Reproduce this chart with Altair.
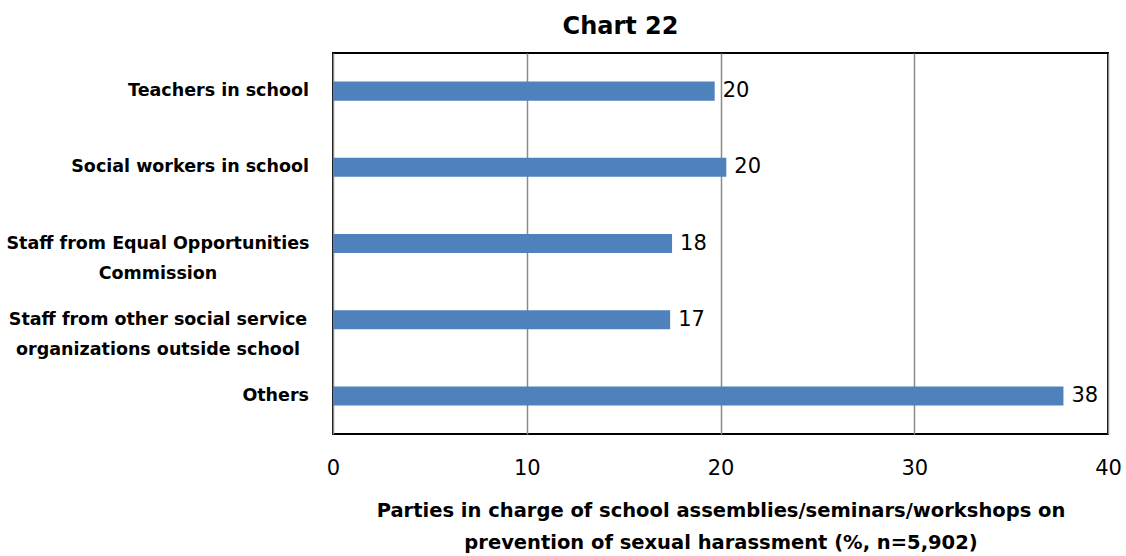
import altair as alt
import pandas as pd

# Survey results: who ran the school sessions on preventing sexual harassment
parties = [
    "Teachers in school",
    "Social workers in school",
    "Staff from Equal Opportunities|Commission",
    "Staff from other social service|organizations outside school",
    "Others",
]
shares = [19.7, 20.3, 17.5, 17.4, 37.7]
shown = ["20", "20", "18", "17", "38"]

df = pd.DataFrame({"party": parties, "share": shares, "label": shown})

FONT = "DejaVu Sans"
BLUE = "#4F81BD"

y_band = alt.Y(
    "party:N",
    sort=parties,
    scale=alt.Scale(paddingInner=0.75, paddingOuter=0.375),
    axis=None,
)

x_enc = alt.X(
    "share:Q",
    scale=alt.Scale(domain=[0, 40], nice=False),
    axis=alt.Axis(
        values=[0, 10, 20, 30, 40],
        title=[
            "Parties in charge of school assemblies/seminars/workshops on",
            "prevention of sexual harassment (%, n=5,902)",
        ],
        titleFont=FONT,
        titleFontSize=19.5,
        titleFontWeight="bold",
        titleColor="black",
        titlePadding=23,
        titleLineHeight=32,
        labelFont=FONT,
        labelFontSize=21,
        labelColor="black",
        labelPadding=23,
        labelFlush=False,
        ticks=False,
        domain=False,
        grid=True,
        gridColor="#8a8a8a",
        gridWidth=1.5,
    ),
)

bars = alt.Chart(df).mark_bar(color=BLUE).encode(x=x_enc, y=y_band)

values = alt.Chart(df).mark_text(
    align="left", baseline="middle", dx=8, font=FONT, fontSize=21, color="black"
).encode(x="share:Q", y=alt.Y("party:N", sort=parties), text="label:N")

# Category names: one-line names sit flush right against the plot,
# two-line names are centred as a block, as in spreadsheet charts.
name_style = dict(
    baseline="middle",
    font=FONT,
    fontSize=17.5,
    fontWeight="bold",
    color="black",
    lineBreak="|",
    lineHeight=30,
)
single_names = (
    alt.Chart(df)
    .transform_filter("indexof(datum.party, '|') < 0")
    .mark_text(align="right", **name_style)
    .encode(x=alt.value(-24), y=alt.Y("party:N", sort=parties), text="party:N")
)
double_names = (
    alt.Chart(df)
    .transform_filter("indexof(datum.party, '|') >= 0")
    .mark_text(align="center", **name_style)
    .encode(x=alt.value(-175), y=alt.Y("party:N", sort=parties), text="party:N")
)

chart = (
    alt.layer(bars, values, single_names, double_names)
    .properties(
        width=775,
        height=381,
        autosize=alt.AutoSizeParams(type="none"),
        padding={"left": 333, "top": 53, "right": 18, "bottom": 122},
        title=alt.TitleParams(
            "Chart 22",
            font=FONT,
            fontSize=24,
            fontWeight="bold",
            color="black",
            anchor="middle",
            dx=-100,
            offset=14,
        ),
    )
    .configure_view(stroke="black", strokeWidth=2)
)

chart.save("out.html", embed_options={"renderer": "svg", "actions": False})
